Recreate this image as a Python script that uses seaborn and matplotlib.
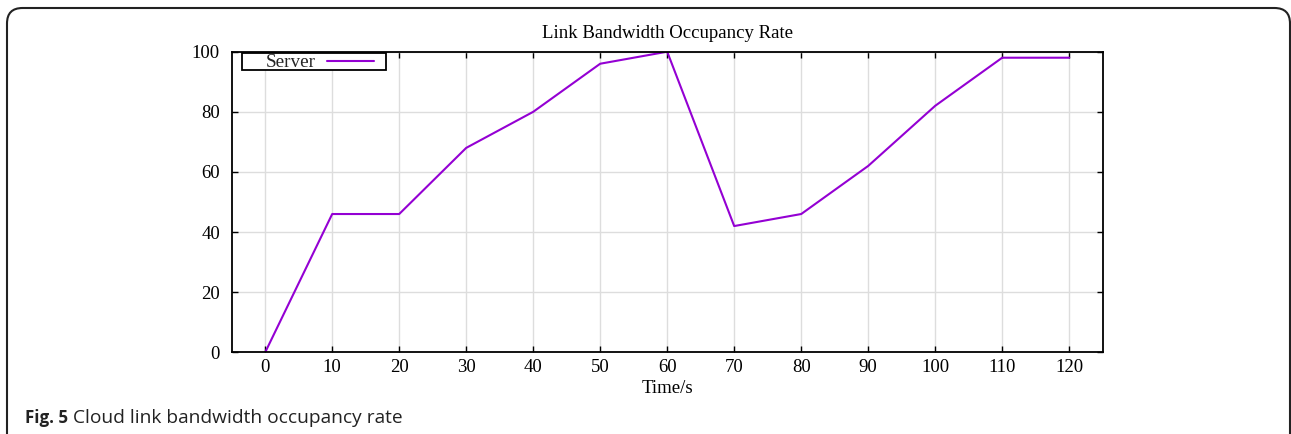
import matplotlib
matplotlib.use("Agg")
import matplotlib.pyplot as plt
from matplotlib.patches import FancyBboxPatch, Rectangle
import seaborn as sns
import pandas as pd

time_s = [0, 10, 20, 30, 40, 50, 60, 70, 80, 90, 100, 110, 120]
server = [0, 46, 46, 68, 80, 96, 100, 42, 46, 62, 82, 98, 98]
x_ticks = [0, 10, 20, 30, 40, 50, 60, 70, 80, 90, 100, 110, 120]
y_ticks = [0, 20, 40, 60, 80, 100]

sns.set_theme(style="white")
plt.rcParams['font.family'] = ['Liberation Serif', 'DejaVu Serif']

df = pd.DataFrame({"Time/s": time_s, "Server": server})

W, H = 1291.0, 434.0
L, R, T, B = 231.7, 1102.7, 51.7, 352.3

fig = plt.figure(figsize=(12.91, 4.34), dpi=100)
ax = fig.add_axes([L/W, 1-B/H, (R-L)/W, (B-T)/H])

sns.lineplot(data=df, x="Time/s", y="Server", ax=ax, color="#9400D3", linewidth=1.5, label="Server")

ax.set_xlim(-5, 125)
ax.set_ylim(0, 100)
ax.set_xticks(x_ticks)
ax.set_yticks(y_ticks)
ax.grid(True, color="#dddddd", linewidth=1.0)
ax.set_axisbelow(True)
for s in ax.spines.values():
    s.set_color("black")
    s.set_linewidth(1.3)
ax.tick_params(direction="in", length=4, width=1, top=True, right=True,
               labelsize=13.5, colors="black", bottom=True, left=True)
ax.tick_params(axis="x", pad=5)
ax.tick_params(axis="y", pad=8.5)
ax.set_xlabel("Time/s", fontsize=13.5, color="black")
ax.xaxis.label.set_va("baseline")
ax.xaxis.set_label_coords(0.5, (B-392.7)/(B-T))
ax.set_ylabel("")

def ax_x(px):
    return (px-L)/(R-L)

def ax_y(py):
    return (B-py)/(B-T)

fig.text((L+R)/2/W, 1-37.7/H, "Link Bandwidth Occupancy Rate", fontsize=13.5,
         ha="center", va="baseline", color="black")

# legend (gnuplot style: text then sample, boxed)
box = Rectangle((ax_x(241.7), ax_y(69.5)), ax_x(386)-ax_x(241.7), ax_y(53.2)-ax_y(69.5),
                transform=ax.transAxes, facecolor="white", edgecolor="black",
                linewidth=1.3, zorder=3)
ax.add_patch(box)
leg = ax.legend(loc="center left", bbox_to_anchor=(ax_x(266), ax_y(62.6)),
                markerfirst=False, fontsize=13.8, frameon=False, borderpad=0,
                handlelength=2.45, handletextpad=0.58, borderaxespad=0)
leg.set_zorder(6)

# outer rounded frame
frame = FancyBboxPatch((7/W, -0.05), (1290-7)/W, (H-8)/H + 0.05,
                       boxstyle="round,pad=0,rounding_size=0.012",
                       transform=fig.transFigure, fill=False, edgecolor="#222222",
                       linewidth=1.5, mutation_aspect=W/H)
fig.patches.append(frame)

fig.text(25/W, 1-423.3/H, "Fig. 5", fontsize=12.2, fontweight="bold",
         family=["Open Sans", "DejaVu Sans"], va="baseline", ha="left", color="#222222")
fig.text(72.7/W, 1-423.3/H, "Cloud link bandwidth occupancy rate", fontsize=13.75,
         family=["Open Sans", "DejaVu Sans"], va="baseline", ha="left", color="#222222")

fig.savefig("out.png", dpi=100)
